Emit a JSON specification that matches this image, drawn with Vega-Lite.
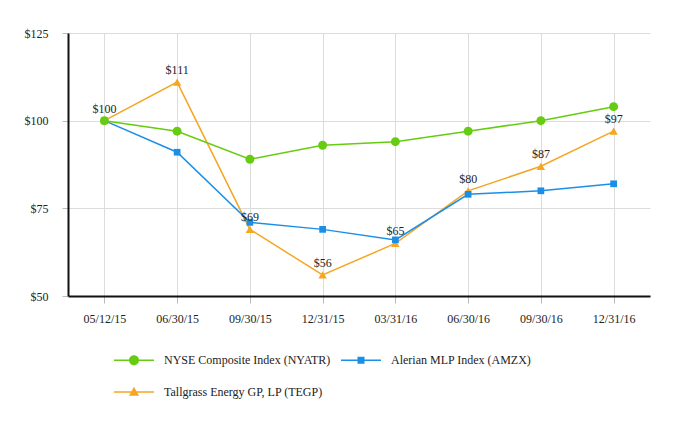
{
  "$schema": "https://vega.github.io/schema/vega-lite/v6.json",
  "width": 582,
  "height": 263,
  "autosize": "none",
  "padding": {"left": 68, "top": 33, "right": 32, "bottom": 130},
  "background": "white",
  "config": {
    "view": {"stroke": null},
    "font": "Liberation Serif",
    "axis": {"labelFont": "Liberation Serif", "labelFontSize": 12, "labelColor": "#222", "gridColor": "#dcdcdc", "gridWidth": 1, "title": null}
  },
  "data": {
    "values": [
      {"date": "05/12/15", "series": "Tallgrass Energy GP, LP (TEGP)", "value": 100},
      {"date": "06/30/15", "series": "Tallgrass Energy GP, LP (TEGP)", "value": 111},
      {"date": "09/30/15", "series": "Tallgrass Energy GP, LP (TEGP)", "value": 69},
      {"date": "12/31/15", "series": "Tallgrass Energy GP, LP (TEGP)", "value": 56},
      {"date": "03/31/16", "series": "Tallgrass Energy GP, LP (TEGP)", "value": 65},
      {"date": "06/30/16", "series": "Tallgrass Energy GP, LP (TEGP)", "value": 80},
      {"date": "09/30/16", "series": "Tallgrass Energy GP, LP (TEGP)", "value": 87},
      {"date": "12/31/16", "series": "Tallgrass Energy GP, LP (TEGP)", "value": 97},
      {"date": "05/12/15", "series": "Alerian MLP Index (AMZX)", "value": 100},
      {"date": "06/30/15", "series": "Alerian MLP Index (AMZX)", "value": 91},
      {"date": "09/30/15", "series": "Alerian MLP Index (AMZX)", "value": 71},
      {"date": "12/31/15", "series": "Alerian MLP Index (AMZX)", "value": 69},
      {"date": "03/31/16", "series": "Alerian MLP Index (AMZX)", "value": 66},
      {"date": "06/30/16", "series": "Alerian MLP Index (AMZX)", "value": 79},
      {"date": "09/30/16", "series": "Alerian MLP Index (AMZX)", "value": 80},
      {"date": "12/31/16", "series": "Alerian MLP Index (AMZX)", "value": 82},
      {"date": "05/12/15", "series": "NYSE Composite Index (NYATR)", "value": 100},
      {"date": "06/30/15", "series": "NYSE Composite Index (NYATR)", "value": 97},
      {"date": "09/30/15", "series": "NYSE Composite Index (NYATR)", "value": 89},
      {"date": "12/31/15", "series": "NYSE Composite Index (NYATR)", "value": 93},
      {"date": "03/31/16", "series": "NYSE Composite Index (NYATR)", "value": 94},
      {"date": "06/30/16", "series": "NYSE Composite Index (NYATR)", "value": 97},
      {"date": "09/30/16", "series": "NYSE Composite Index (NYATR)", "value": 100},
      {"date": "12/31/16", "series": "NYSE Composite Index (NYATR)", "value": 104}
    ]
  },
  "encoding": {
    "x": {
      "field": "date", "type": "ordinal", "sort": null,
      "scale": {"type": "point", "padding": 0.5},
      "axis": {"labelAngle": 0, "labelFont": "Liberation Serif", "domainColor": "#111", "domainWidth": 2, "tickColor": "#bbb", "tickSize": 7, "labelPadding": 10, "grid": true}
    },
    "y": {
      "field": "value", "type": "quantitative",
      "scale": {"domain": [50, 125], "nice": false, "zero": false},
      "axis": {"values": [50, 75, 100, 125], "format": "$.0f", "labelFont": "Liberation Serif", "domainColor": "#111", "domainWidth": 2, "tickColor": "#bbb", "tickSize": 6, "labelPadding": 14, "grid": true}
    }
  },
  "layer": [
    {
      "transform": [{"filter": "false"}],
      "mark": {"type": "point", "filled": true, "opacity": 1},
      "encoding": {
        "color": {
          "field": "series", "type": "nominal",
          "scale": {
            "domain": ["NYSE Composite Index (NYATR)", "Alerian MLP Index (AMZX)", "Tallgrass Energy GP, LP (TEGP)"],
            "range": ["#66cc11", "#1a8fe8", "#f5a623"]
          },
          "legend": {
            "title": null,
            "orient": "none",
            "legendX": 53.5,
            "legendY": 314.5,
            "direction": "horizontal",
            "columns": 2,
            "padding": 0,
            "symbolSize": 625,
            "symbolOpacity": 1,
            "symbolStrokeWidth": 0,
            "labelOffset": 17.5,
            "columnPadding": 10,
            "rowPadding": 13,
            "labelFont": "Liberation Serif",
            "labelFontSize": 12,
            "labelColor": "#222",
            "labelLimit": 400
          }
        },
        "shape": {
          "field": "series", "type": "nominal",
          "scale": {
            "domain": ["NYSE Composite Index (NYATR)", "Alerian MLP Index (AMZX)", "Tallgrass Energy GP, LP (TEGP)"],
            "range": [
              "M-1.6,-0.06H1.6V0.06H-1.6ZM0.4,0A0.4,0.4 0 1 1 -0.4,0A0.4,0.4 0 1 1 0.4,0Z",
              "M-1.6,-0.06H1.6V0.06H-1.6ZM-0.28,-0.28H0.28V0.28H-0.28Z",
              "M-1.6,-0.06H1.6V0.06H-1.6ZM0,-0.42L0.4,0.3L-0.4,0.3Z"
            ]
          }
        }
      }
    },
    {
      "mark": {"type": "line", "strokeWidth": 1.5},
      "encoding": {"color": {"field": "series", "type": "nominal", "legend": null}}
    },
    {
      "transform": [{"filter": "datum.series === 'Tallgrass Energy GP, LP (TEGP)'"}],
      "mark": {"type": "point", "filled": true, "opacity": 1, "shape": "triangle-up", "size": 70},
      "encoding": {"color": {"field": "series", "type": "nominal", "legend": null}}
    },
    {
      "transform": [{"filter": "datum.series === 'Alerian MLP Index (AMZX)'"}],
      "mark": {"type": "point", "filled": true, "opacity": 1, "shape": "square", "size": 45},
      "encoding": {"color": {"field": "series", "type": "nominal", "legend": null}}
    },
    {
      "transform": [{"filter": "datum.series === 'NYSE Composite Index (NYATR)'"}],
      "mark": {"type": "point", "filled": true, "opacity": 1, "shape": "circle", "size": 80},
      "encoding": {"color": {"field": "series", "type": "nominal", "legend": null}}
    },
    {
      "transform": [{"filter": "datum.series === 'Tallgrass Energy GP, LP (TEGP)'"}],
      "mark": {"type": "text", "dy": -12, "baseline": "middle", "font": "Liberation Serif", "fontSize": 12, "color": "#222"},
      "encoding": {
        "text": {"field": "value", "type": "quantitative", "format": "$.0f"}
      }
    }
  ]
}
